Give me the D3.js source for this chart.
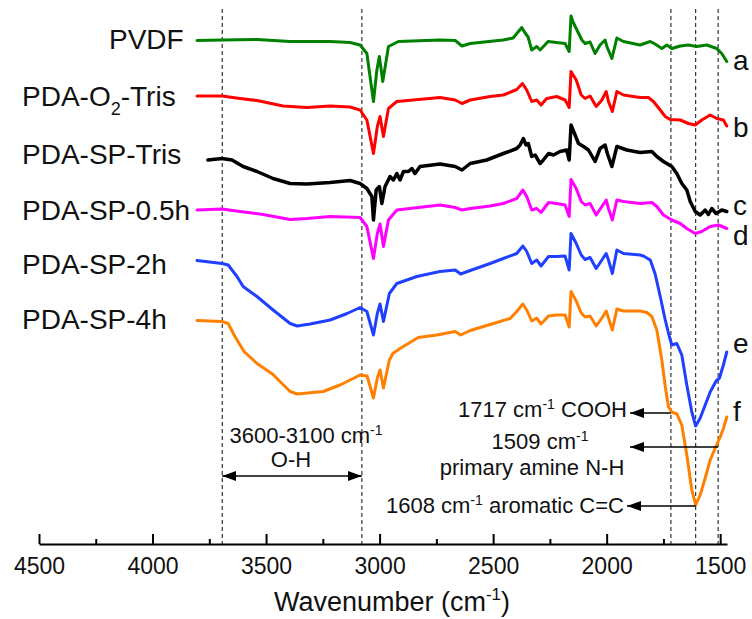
<!DOCTYPE html>
<html>
<head>
<meta charset="utf-8">
<script src="https://cdn.jsdelivr.net/npm/d3@7"></script>
<style>
  body { margin: 0; background: #fff; }
  svg { font-family: Arial, "Liberation Sans", sans-serif; }
</style>
</head>
<body>
<div id="plot"></div>
<script>
// FTIR spectra, offset transmittance (a.u.) vs wavenumber (cm-1)
const seriesNames = ["PVDF", "PDA-O2-Tris", "PDA-SP-Tris", "PDA-SP-0.5h", "PDA-SP-2h", "PDA-SP-4h"];
const seriesLetters = ["a", "b", "c", "d", "e", "f"];
const seriesColors = ["#008000", "#ff0000", "#000000", "#ff00ff", "#2040ff", "#ff8000"];

const pvdf = [[3804,100.7],[3694,100.8],[3540,100.9],[3394,100.5],[3218,100.5],[3130,100.3],[3086,99.8],[3056,98.1],[3027,88.5],[3012,94.8],[3001,97.5],[2986,92.5],[2961,99.5],[2917,100.5],[2734,100.8],[2667,100.7],[2637,99.6],[2601,100.1],[2456,100.8],[2412,101.2],[2374,103.3],[2359,102.2],[2346,101.4],[2330,98.8],[2308,99.5],[2293,98.8],[2258,100.5],[2183,100.1],[2165,98.5],[2157,105.6],[2148,104.4],[2131,102.8],[2109,100.8],[2095,100.1],[2073,100.4],[2051,98.1],[2029,99.8],[2007,100.8],[1999,99.5],[1977,97.1],[1955,101.2],[1926,100.5],[1853,99.8],[1808,100.5],[1787,100],[1757,99.1],[1735,99.8],[1713,99.1],[1676,99.6],[1640,99.8],[1603,99.5],[1559,99.8],[1515,99.1],[1493,98.1],[1471,96.5]];

const pdaO2Tris = [[3804,89.6],[3694,89.6],[3615,89.1],[3540,88.7],[3425,87.6],[3320,87.3],[3218,87.6],[3130,87.4],[3086,86.8],[3056,84.8],[3027,78.1],[3010,83.5],[2998,85.5],[2983,81.5],[2961,87.1],[2924,88.5],[2734,89.3],[2667,88.8],[2637,88.1],[2601,88.8],[2513,89.5],[2455,89.8],[2396,90.9],[2371,92.1],[2352,90.8],[2330,88.5],[2308,88.8],[2289,87.8],[2264,89.1],[2220,89.5],[2183,88.8],[2165,87.3],[2157,94.5],[2134,92.8],[2112,89.8],[2095,89.1],[2073,89.6],[2046,87.5],[2021,88.8],[2002,90.5],[1992,88.5],[1975,86.5],[1955,90.5],[1926,89.8],[1853,89.3],[1816,89.3],[1794,88.5],[1764,86.8],[1742,85.5],[1720,84.9],[1676,84.8],[1640,84.1],[1610,83.8],[1581,84.8],[1544,85.8],[1515,85.1],[1486,84.8],[1471,83.6]];

const pdaSPTris = [[3756,76.8],[3694,77.1],[3650,76.8],[3601,75.5],[3540,74.5],[3469,73.1],[3394,72.1],[3320,72.0],[3218,72.3],[3130,72.7],[3086,72.1],[3056,71.1],[3034,69.5],[3027,64.8],[3015,70.8],[3001,71.5],[2990,68.1],[2976,71.5],[2954,73.5],[2939,72.8],[2924,74.1],[2910,72.8],[2895,74.5],[2873,74.5],[2858,75.1],[2844,74.1],[2822,75.5],[2734,76.0],[2667,75.5],[2637,74.8],[2601,76.1],[2528,76.8],[2455,78.1],[2396,79.1],[2381,79.8],[2367,81.1],[2355,79.8],[2345,80.1],[2330,77.5],[2315,77.8],[2293,76.1],[2279,76.8],[2256,78.1],[2234,77.8],[2205,78.5],[2176,78.8],[2165,76.8],[2157,83.8],[2139,81.8],[2124,80.1],[2102,79.5],[2080,78.8],[2051,76.5],[2029,79.1],[2007,79.8],[1997,78.1],[1977,75.5],[1955,79.5],[1911,78.8],[1853,78.3],[1801,78.5],[1779,77.5],[1750,76.5],[1713,75.5],[1691,74.1],[1669,72.1],[1647,70.8],[1632,68.5],[1610,66.5],[1588,65.8],[1566,66.8],[1552,65.9],[1537,67.1],[1518,66.1],[1493,66.8],[1471,66.5]];

const pdaSP05h = [[3804,66.8],[3694,67.0],[3615,66.5],[3513,65.9],[3394,64.9],[3320,65.1],[3218,65.5],[3086,65.3],[3056,63.5],[3027,57.1],[3010,62.1],[2998,64.0],[2983,59.5],[2961,64.8],[2924,66.8],[2734,67.8],[2667,67.3],[2637,66.8],[2601,67.1],[2513,67.6],[2455,68.1],[2396,69.1],[2369,70.8],[2352,69.5],[2330,66.8],[2308,67.1],[2289,66.3],[2256,68.3],[2220,68.1],[2183,67.8],[2165,65.5],[2157,72.9],[2134,71.1],[2112,68.5],[2095,67.8],[2073,68.1],[2046,65.8],[2021,67.5],[2002,68.8],[1992,67.1],[1975,64.8],[1955,68.8],[1926,68.5],[1853,68.1],[1801,68.3],[1779,67.5],[1750,65.8],[1713,64.8],[1676,64.1],[1647,63.1],[1610,62.1],[1581,62.5],[1544,63.5],[1507,63.8],[1471,63.1]];

const pdaSP2h = [[3804,56.7],[3694,56.1],[3667,55.8],[3628,53.5],[3601,51.5],[3540,49.5],[3469,46.8],[3394,44.1],[3363,43.6],[3306,44.0],[3218,44.8],[3143,46.1],[3086,47.3],[3056,46.5],[3027,41.8],[3010,46.1],[2998,48.0],[2983,44.5],[2957,50.1],[2924,52.1],[2836,53.5],[2734,54.5],[2667,54.8],[2643,54.0],[2601,54.7],[2513,56.1],[2455,57.1],[2396,58.1],[2369,59.6],[2352,58.5],[2330,56.1],[2308,56.8],[2289,55.6],[2256,57.5],[2220,57.5],[2183,57.6],[2165,54.8],[2157,62.1],[2134,60.1],[2112,57.8],[2095,56.9],[2073,57.3],[2046,55.1],[2021,56.8],[2002,58.1],[1992,56.8],[1975,54.1],[1955,58.8],[1926,58.1],[1853,57.8],[1838,57.6],[1808,56.8],[1787,54.1],[1764,49.5],[1742,44.8],[1724,41.5],[1713,39.8],[1691,40.1],[1669,37.8],[1647,31.8],[1625,26.4],[1608,23.6],[1588,25.2],[1566,27.8],[1544,30.4],[1518,32.6],[1503,33.2],[1486,35.8],[1471,38.4]];

const pdaSP4h = [[3804,44.7],[3694,44.5],[3667,44.1],[3637,41.5],[3597,38.5],[3540,36.1],[3472,34.0],[3394,30.5],[3363,30.0],[3249,30.5],[3174,31.8],[3086,33.8],[3055,33.6],[3027,29.2],[3010,33.2],[2998,34.8],[2983,31.2],[2957,36.8],[2942,38.1],[2910,39.1],[2830,41.3],[2748,41.8],[2667,42.5],[2643,41.8],[2601,42.7],[2506,44.0],[2425,45.1],[2396,46.5],[2369,48.0],[2352,46.8],[2330,44.6],[2308,45.2],[2289,44.0],[2256,45.6],[2220,45.8],[2183,45.8],[2165,43.4],[2157,50.5],[2134,48.6],[2112,46.2],[2095,45.4],[2073,45.6],[2046,43.6],[2021,45.2],[2002,46.6],[1992,45.2],[1975,42.8],[1955,47.0],[1926,46.6],[1853,46.6],[1823,46.3],[1801,45.5],[1779,42.8],[1757,36.8],[1742,31.5],[1728,27.5],[1713,26.4],[1691,26.0],[1669,23.8],[1647,17.8],[1625,10.8],[1608,7.8],[1588,9.8],[1566,13.2],[1544,16.8],[1518,19.6],[1500,21.4],[1485,23.2],[1471,25.4]];

const spectra = [pvdf, pdaO2Tris, pdaSPTris, pdaSP05h, pdaSP2h, pdaSP4h];

const majorTicks = [4500, 4000, 3500, 3000, 2500, 2000, 1500];
const minorTicks = [4250, 3750, 3250, 2750, 2250, 1750];
const markerWavenumbers = [3693, 3078, 1717, 1608, 1509];

const width = 752, height = 619;
const x = d3.scaleLinear().domain([4500, 1470]).range([39, 727]);
const y = d3.scaleLinear().domain([0, 107]).range([544, 9]);

const svg = d3.select("#plot").append("svg")
  .attr("width", width)
  .attr("height", height);

const defs = svg.append("defs");
defs.append("marker")
  .attr("id", "head")
  .attr("viewBox", "0 0 14 10")
  .attr("refX", 14).attr("refY", 5)
  .attr("markerWidth", 14).attr("markerHeight", 10)
  .attr("markerUnits", "userSpaceOnUse")
  .attr("orient", "auto-start-reverse")
  .append("path")
  .attr("d", "M0,0L14,5L0,10Z")
  .attr("fill", "#000");

// dashed reference lines
svg.selectAll(".ref")
  .data(markerWavenumbers)
  .join("line")
  .attr("class", "ref")
  .attr("x1", d => x(d)).attr("x2", d => x(d))
  .attr("y1", 9).attr("y2", 544)
  .attr("stroke", "#222")
  .attr("stroke-width", 1.1)
  .attr("stroke-dasharray", "4,3");

// spectra
const line = d3.line()
  .x(d => x(d[0]))
  .y(d => y(d[1]));

svg.selectAll(".spec")
  .data(spectra)
  .join("path")
  .attr("class", "spec")
  .attr("d", line)
  .attr("fill", "none")
  .attr("stroke", (d, i) => seriesColors[i])
  .attr("stroke-width", (d, i) => i === 2 ? 3.5 : 3)
  .attr("stroke-linejoin", "round")
  .attr("stroke-linecap", "round");

// x axis
const axisG = svg.append("g").attr("transform", "translate(0,544)");
axisG.call(d3.axisBottom(x).tickValues(majorTicks).tickSize(-10).tickSizeOuter(0).tickPadding(14).tickFormat(d3.format("d")));
axisG.append("g").call(d3.axisBottom(x).tickValues(minorTicks).tickSize(-5).tickSizeOuter(0).tickFormat(""))
  .select(".domain").remove();
axisG.selectAll(".domain").attr("stroke-width", 2);
axisG.selectAll(".tick line").attr("stroke-width", 2);
axisG.selectAll(".tick text").attr("font-size", 23).attr("font-family", "Arial, 'Liberation Sans', sans-serif").attr("fill", "#111");

// axis title
const title = svg.append("text")
  .attr("x", 392).attr("y", 611)
  .attr("text-anchor", "middle")
  .attr("font-size", 27)
  .attr("fill", "#111");
title.append("tspan").text("Wavenumber (cm");
title.append("tspan").attr("dy", -11).attr("font-size", 17).text("-1");
title.append("tspan").attr("dy", 11).text(")");

// left labels
const labelPos = [[109, 49], [22, 106], [22, 164], [22, 220], [22, 274], [22, 329]];
seriesNames.forEach((name, i) => {
  const t = svg.append("text")
    .attr("x", labelPos[i][0]).attr("y", labelPos[i][1])
    .attr("font-size", 28)
    .attr("fill", "#111");
  if (name === "PDA-O2-Tris") {
    t.append("tspan").text("PDA-O");
    t.append("tspan").attr("dy", 9).attr("font-size", 18).text("2");
    t.append("tspan").attr("dy", -9).text("-Tris");
  } else {
    t.text(name);
  }
});

// right letters
const letterY = [70, 137, 215, 245, 353, 421];
svg.selectAll(".letter")
  .data(seriesLetters)
  .join("text")
  .attr("class", "letter")
  .attr("x", 733)
  .attr("y", (d, i) => letterY[i])
  .attr("font-size", 28)
  .attr("fill", "#111")
  .text(d => d);

// annotations
function supText(g, xPos, yPos, anchor, before, after) {
  const t = g.append("text")
    .attr("x", xPos).attr("y", yPos)
    .attr("text-anchor", anchor)
    .attr("font-size", 22)
    .attr("fill", "#111");
  t.append("tspan").text(before);
  t.append("tspan").attr("dy", -8).attr("font-size", 14).text("-1");
  t.append("tspan").attr("dy", 8).text(after);
  return t;
}

function arrow(x1, x2, yPos, both) {
  svg.append("line")
    .attr("x1", x1).attr("x2", x2)
    .attr("y1", yPos).attr("y2", yPos)
    .attr("stroke", "#000")
    .attr("stroke-width", 1.6)
    .attr("marker-end", "url(#head)")
    .attr("marker-start", both ? "url(#head)" : null);
}

arrow(x(1717), 630, 413, false);
supText(svg, 627, 417, "end", "1717 cm", " COOH");

arrow(x(1509), 630, 447, false);
supText(svg, 540, 449, "middle", "1509 cm", "");
svg.append("text").attr("x", 532).attr("y", 475).attr("text-anchor", "middle")
  .attr("font-size", 22).attr("fill", "#111").text("primary amine N-H");

arrow(x(1608), 627, 506, false);
supText(svg, 624, 513, "end", "1608 cm", " aromatic C=C");

// O-H band
supText(svg, 306, 443, "middle", "3600-3100 cm", "");
svg.append("text").attr("x", 291).attr("y", 467).attr("text-anchor", "middle")
  .attr("font-size", 22).attr("fill", "#111").text("O-H");
arrow(x(3693), x(3078), 476, true);
</script>
</body>
</html>
